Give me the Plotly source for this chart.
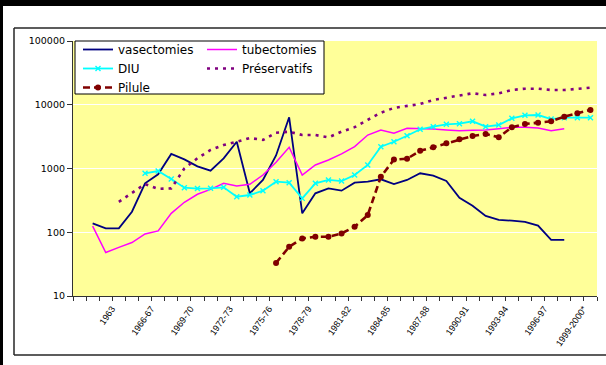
import plotly.graph_objects as go

# Years (fiscal years from 1966-67), one category per year
categories = [
    "1960", "1961", "1962", "1963", "1964-65", "1965-66", "1966-67", "1967-68",
    "1968-69", "1969-70", "1970-71", "1971-72", "1972-73", "1973-74", "1974-75",
    "1975-76", "1976-77", "1977-78", "1978-79", "1979-80", "1980-81", "1981-82",
    "1982-83", "1983-84", "1984-85", "1985-86", "1986-87", "1987-88", "1988-89",
    "1989-90", "1990-91", "1991-92", "1992-93", "1993-94", "1994-95", "1995-96",
    "1996-97", "1997-98", "1998-99", "1999-2000*",
]

# Year labels printed under the axis
shown_labels = [
    "1963", "1966-67", "1969-70", "1972-73", "1975-76", "1978-79", "1981-82",
    "1984-85", "1987-88", "1990-91", "1993-94", "1996-97", "1999-2000*",
]

# Number of acceptors (thousands), None where no figure exists
vasectomies = [
    None, 138, 115, 115, 210, 586, 811, 1690, 1390, 1080,
    925, 1445, 2630, 408, 661, 1600, 6350, 198, 408, 489,
    449, 599, 621, 677, 571, 661, 841, 771, 636, 348,
    261, 180, 156, 152, 146, 127, 76, 76, None, None,
]
tubectomies = [
    None, 125, 48, 58, 69, 94, 105, 198, 295, 394,
    470, 586, 531, 565, 791, 1250, 2155, 791, 1135, 1360,
    1700, 2200, 3350, 4020, 3565, 4275, 4275, 4170, 4020, 3915,
    3975, 4020, 4210, 4430, 4430, 4315, 3915, 4210, None, None,
]
diu = [
    None, None, None, None, None, 841, 914, 684, 500, 485,
    489, 507, 361, 384, 449, 621, 599, 340, 586, 661,
    636, 791, 1135, 2200, 2630, 3270, 4120, 4530, 4935, 5050,
    5500, 4530, 4810, 6120, 6820, 6900, 5970, 6260, 6260, 6260,
]
preservatifs = [
    None, None, None, 300, 420, 570, 480, 488, 1000, 1450,
    1950, 2340, 2630, 3010, 2800, 3640, 3780, 3350, 3350, 3080,
    3780, 4450, 5800, 7500, 8920, 9670, 10280, 11880, 12900, 14230,
    15130, 14230, 15130, 17030, 17870, 17870, 17030, 17030, 17650, 18550,
]
pilule = [
    None, None, None, None, None, None, None, None, None, None,
    None, None, None, None, None, 33, 59, 80, 85, 85,
    96, 122, 186, 743, 1380, 1420, 1900, 2155, 2485, 2870,
    3240, 3480, 3080, 4430, 4990, 5240, 5500, 6500, 7350, 8280,
]

tick_text = [c if c in shown_labels else "" for c in categories]

# Page geometry (pixels) and helpers converting pixel positions to paper units
W, H = 606, 365
ML, MR, MT, MB = 73, 9, 41, 69


def px_x(x):
    return (x - ML) / (W - ML - MR)


def px_y(y):
    return (H - MB - y) / (H - MT - MB)


fig = go.Figure()

fig.add_trace(go.Scatter(
    x=categories, y=vasectomies, name="vasectomies", mode="lines",
    line=dict(color="#000080", width=1.8), legend="legend",
))
fig.add_trace(go.Scatter(
    x=categories, y=tubectomies, name="tubectomies", mode="lines",
    line=dict(color="#FF00FF", width=1.5), legend="legend2",
))
fig.add_trace(go.Scatter(
    x=categories, y=diu, name="DIU", mode="lines+markers",
    line=dict(color="#00FFFF", width=1.8),
    marker=dict(symbol="x-thin", size=5, line=dict(color="#00FFFF", width=1.4)),
    legend="legend",
))
fig.add_trace(go.Scatter(
    x=categories, y=preservatifs, name="Préservatifs", mode="lines",
    line=dict(color="#800080", width=2.6, dash="3px,5px"), legend="legend2",
))
fig.add_trace(go.Scatter(
    x=categories, y=pilule, name="Pilule", mode="lines+markers",
    line=dict(color="#800000", width=2.6, dash="7px,4px"),
    marker=dict(symbol="circle", size=6, color="#800000"),
    legend="legend",
))

legend_common = dict(
    xanchor="left", yanchor="top", bgcolor="rgba(0,0,0,0)", borderwidth=0,
    font=dict(family="DejaVu Sans", size=12, color="black"), tracegroupgap=0,
)

frame_line = dict(color="#262626", width=1.5)

fig.update_layout(
    width=W, height=H, autosize=False,
    margin=dict(l=ML, r=MR, t=MT, b=MB, pad=0),
    paper_bgcolor="white", plot_bgcolor="#FFFF99",
    showlegend=True,
    legend=dict(x=px_x(78), y=px_y(35), **legend_common),
    legend2=dict(x=px_x(202), y=px_y(35), **legend_common),
    xaxis=dict(
        type="category", categoryorder="array", categoryarray=categories,
        range=[-0.5, len(categories) - 0.5],
        tickmode="array", tickvals=categories, ticktext=tick_text,
        tickson="boundaries", ticks="outside", ticklen=4, tickcolor="#333333",
        tickangle=-55, tickfont=dict(family="Liberation Sans", size=9, color="black"),
        ticklabelshift=-7, ticklabelstandoff=3,
        showline=True, linecolor="#333333", linewidth=1.2,
        showgrid=False, zeroline=False,
    ),
    yaxis=dict(
        type="log", range=[1, 5],
        tickmode="array", tickvals=[10, 100, 1000, 10000, 100000],
        ticktext=["10", "100", "1000", "10000", "100000"],
        ticks="outside", ticklen=5, tickcolor="#333333",
        tickfont=dict(family="DejaVu Sans", size=9.5, color="black"),
        showline=True, linecolor="#333333", linewidth=1.2,
        showgrid=True, gridcolor="white", gridwidth=1.2, zeroline=False,
    ),
    shapes=[
        # outer black edges
        dict(type="rect", xref="paper", yref="paper",
             x0=px_x(0), x1=px_x(W), y0=px_y(6), y1=px_y(0),
             fillcolor="black", line=dict(width=0), layer="above"),
        dict(type="rect", xref="paper", yref="paper",
             x0=px_x(0), x1=px_x(3), y0=px_y(H), y1=px_y(0),
             fillcolor="black", line=dict(width=0), layer="above"),
        # chart frame (open on the right)
        dict(type="line", xref="paper", yref="paper",
             x0=px_x(14), x1=px_x(W), y0=px_y(28), y1=px_y(28),
             line=frame_line, layer="above"),
        dict(type="line", xref="paper", yref="paper",
             x0=px_x(14), x1=px_x(W), y0=px_y(355), y1=px_y(355),
             line=frame_line, layer="above"),
        dict(type="line", xref="paper", yref="paper",
             x0=px_x(14), x1=px_x(14), y0=px_y(28), y1=px_y(355),
             line=frame_line, layer="above"),
        # legend box
        dict(type="rect", xref="paper", yref="paper",
             x0=px_x(75), x1=px_x(324), y0=px_y(94), y1=px_y(41),
             fillcolor="white", line=dict(color="black", width=1),
             layer="above"),
    ],
)

fig.write_html("out.html")
